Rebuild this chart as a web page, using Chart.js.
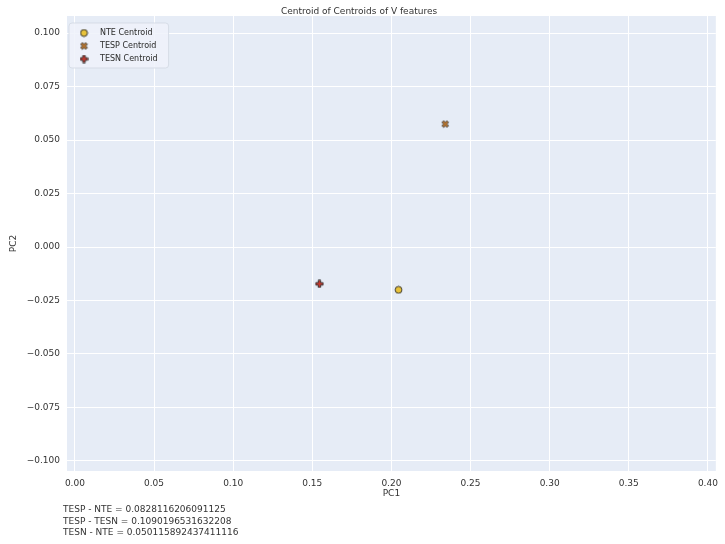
<!DOCTYPE html>
<html>
<head>
<meta charset="utf-8">
<script src="https://cdn.jsdelivr.net/npm/chart.js@4.4.1/dist/chart.umd.min.js"></script>
<style>
  html, body { margin: 0; padding: 0; background: #ffffff; }
  #wrap { position: relative; width: 725px; height: 544px; }
  #c { position: absolute; left: 0; top: 0; }
  #notes { position: absolute; left: 63px; top: 504px; font-family: "DejaVu Sans", sans-serif; font-size: 9px; line-height: 11.5px; color: #333333; white-space: pre; }
</style>
</head>
<body>
<div id="wrap">
  <canvas id="c" width="725" height="544"></canvas>
  <div id="notes"></div>
</div>
<script>
// ---- data ----
const seriesNames = ['NTE Centroid', 'TESP Centroid', 'TESN Centroid'];
const pc1Values = [0.2045, 0.2340, 0.1545];
const pc2Values = [-0.0200, 0.0575, -0.0172];
const markerKinds = ['circle', 'X', 'P'];
const markerColors = ['#e8c23a', '#c27a2e', '#c9372c'];
const xTickValues = [0.00, 0.05, 0.10, 0.15, 0.20, 0.25, 0.30, 0.35, 0.40];
const yTickValues = [-0.100, -0.075, -0.050, -0.025, 0.000, 0.025, 0.050, 0.075, 0.100];
const distanceNotes = [
  'TESP - NTE = 0.0828116206091125',
  'TESP - TESN = 0.1090196531632208',
  'TESN - NTE = 0.050115892437411116'
];
const chartTitle = 'Centroid of Centroids of V features';
const xTitle = 'PC1';
const yTitle = 'PC2';

document.getElementById('notes').textContent = distanceNotes.join('\n');

// ---- marker images ----
function makeMarker(kind, color) {
  const s = 9;
  const cv = document.createElement('canvas');
  cv.width = s; cv.height = s;
  const ctx = cv.getContext('2d');
  const c = s / 2;
  ctx.fillStyle = color;
  ctx.strokeStyle = '#2b2b2b';
  ctx.lineWidth = 0.9;
  ctx.beginPath();
  if (kind === 'circle') {
    ctx.arc(c, c, 3.4, 0, Math.PI * 2);
  } else {
    const pts = [[-1,-3],[1,-3],[1,-1],[3,-1],[3,1],[1,1],[1,3],[-1,3],[-1,1],[-3,1],[-3,-1],[-1,-1]];
    const ang = kind === 'X' ? Math.PI / 4 : 0;
    const scale = kind === 'X' ? 1.15 : 1.2;
    pts.forEach((p, i) => {
      const x = p[0] * Math.cos(ang) - p[1] * Math.sin(ang);
      const y = p[0] * Math.sin(ang) + p[1] * Math.cos(ang);
      const px = c + x * scale, py = c + y * scale;
      if (i === 0) ctx.moveTo(px, py); else ctx.lineTo(px, py);
    });
    ctx.closePath();
  }
  ctx.fill();
  ctx.stroke();
  return cv;
}

const datasets = seriesNames.map((name, i) => ({
  label: name,
  data: [{ x: pc1Values[i], y: pc2Values[i] }],
  pointStyle: makeMarker(markerKinds[i], markerColors[i]),
  backgroundColor: markerColors[i],
  borderColor: '#2b2b2b'
}));

const textColor = '#333333';
const baseFont = { family: '"DejaVu Sans", sans-serif', size: 9 };

const bgPlugin = {
  id: 'bgPlugin',
  beforeDraw(chart) {
    const a = chart.chartArea;
    const ctx = chart.ctx;
    ctx.save();
    ctx.fillStyle = '#e6ecf6';
    ctx.fillRect(a.left, a.top, a.right - a.left, a.bottom - a.top);
    ctx.restore();
  },
  beforeDatasetsDraw(chart) {
    const lg = chart.legend;
    if (!lg || !lg.legendHitBoxes || !lg.legendHitBoxes.length) return;
    const hb = lg.legendHitBoxes;
    let t = Infinity, r = -Infinity, b = -Infinity;
    hb.forEach(h => { t = Math.min(t, h.top); r = Math.max(r, h.left + h.width); b = Math.max(b, h.top + h.height); });
    const ctx = chart.ctx;
    ctx.save();
    const x0 = chart.chartArea.left + 2, y0 = t - 6, x1 = r + 11, y1 = b + 5;
    ctx.beginPath();
    if (ctx.roundRect) ctx.roundRect(x0, y0, x1 - x0, y1 - y0, 3); else ctx.rect(x0, y0, x1 - x0, y1 - y0);
    ctx.fillStyle = 'rgba(238,242,250,0.85)';
    ctx.fill();
    ctx.strokeStyle = 'rgba(212,218,228,0.9)';
    ctx.lineWidth = 1;
    ctx.stroke();
    ctx.restore();
    lg.draw();
  }
};

new Chart(document.getElementById('c'), {
  type: 'scatter',
  data: { datasets },
  options: {
    responsive: false,
    animation: false,
    events: [],
    layout: { padding: { left: 0, right: 7, top: 0, bottom: 43 } },
    elements: { point: { radius: 4.5, borderWidth: 0.9 } },
    plugins: {
      title: {
        display: true, text: chartTitle, color: textColor,
        font: { ...baseFont, size: 9, weight: 'normal', lineHeight: 1 },
        padding: { top: 7, bottom: 0 }
      },
      legend: {
        position: 'chartArea', align: 'start',
        title: { display: true, text: '', padding: { top: 16, bottom: 0 }, font: { ...baseFont, size: 8, lineHeight: 1 } },
        labels: {
          usePointStyle: true, pointStyleWidth: 24, padding: 5,
          color: textColor, font: { ...baseFont, size: 8 }
        }
      },
      tooltip: { enabled: false }
    },
    scales: {
      x: {
        type: 'linear', min: -0.005, max: 0.405,
        afterBuildTicks(scale) { scale.ticks = xTickValues.map(v => ({ value: v })); },
        afterFit(scale) { scale.height = 30; },
        ticks: { color: textColor, font: baseFont, padding: 7, maxRotation: 0,
          callback: v => Number(v).toFixed(2) },
        grid: { color: '#ffffff', lineWidth: 1, drawTicks: false },
        border: { display: false },
        title: { display: true, text: xTitle, color: textColor, font: baseFont, padding: { top: 0, bottom: 2 } }
      },
      y: {
        type: 'linear', min: -0.1047, max: 0.108,
        afterBuildTicks(scale) { scale.ticks = yTickValues.map(v => ({ value: v })); },
        afterFit(scale) { scale.width = 67; },
        ticks: { color: textColor, font: baseFont, padding: 7,
          callback: v => { const s = Number(v).toFixed(3); return s.startsWith('-') ? '\u2212' + s.slice(1) : s; } },
        grid: { color: '#ffffff', lineWidth: 1, drawTicks: false },
        border: { display: false },
        title: { display: true, text: yTitle, color: textColor, font: baseFont, padding: { top: 8, bottom: 4 } }
      }
    }
  },
  plugins: [bgPlugin]
});
</script>
</body>
</html>
